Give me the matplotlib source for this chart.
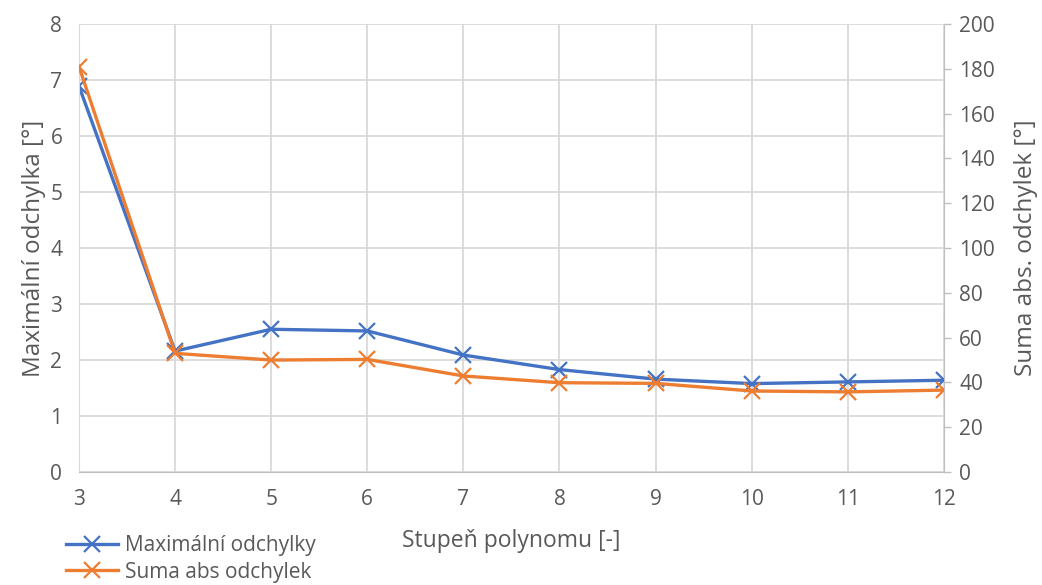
import matplotlib
matplotlib.use("Agg")
import matplotlib.pyplot as plt

# data
stupen = [3, 4, 5, 6, 7, 8, 9, 10, 11, 12]
max_odchylky = [6.89, 2.16, 2.55, 2.52, 2.09, 1.83, 1.66, 1.58, 1.61, 1.64]
suma_odchylek = [181, 53, 50, 50.3, 42.9, 39.9, 39.6, 36.2, 35.8, 36.6]

blue = "#4472C4"
orange = "#ED7D31"
txt = "#595959"
grid = "#D9D9D9"

plt.rcParams["font.family"] = ["Open Sans", "DejaVu Sans"]
plt.rcParams["font.size"] = 15

fig = plt.figure(figsize=(10.42, 5.85), dpi=100)
ax1 = fig.add_axes([0.0758, 0.193, 0.830, 0.766])
ax2 = ax1.twinx()

l1, = ax1.plot(stupen, max_odchylky, color=blue, lw=2.4, marker="x",
               markersize=12, markeredgewidth=1.6, label="Maximální odchylky")
l2, = ax2.plot(stupen, suma_odchylek, color=orange, lw=2.4, marker="x",
               markersize=12, markeredgewidth=1.6, label="Suma abs odchylek")

ax1.set_xlim(3, 12)
ax1.set_ylim(0, 8)
ax2.set_ylim(0, 200)
ax1.set_xticks(stupen)
ax1.set_yticks(range(0, 9))
ax2.set_yticks(range(0, 201, 20))

ax1.grid(True, color=grid, lw=1.3)
ax1.set_axisbelow(True)

for ax in (ax1, ax2):
    for s in ax.spines.values():
        s.set_visible(False)
    ax.tick_params(colors=txt, labelsize=15)
ax1.spines["left"].set_visible(True)
ax1.spines["left"].set_color(grid)
ax1.spines["bottom"].set_visible(True)
ax1.spines["bottom"].set_color("#BFBFBF")
ax2.spines["right"].set_visible(True)
ax2.spines["right"].set_color("#BFBFBF")
ax1.tick_params(axis="x", length=0, pad=12)
ax1.tick_params(axis="y", length=0, pad=12)
ax2.tick_params(axis="y", length=5, width=1, color="#BFBFBF", pad=6)

ax1.set_xlabel("Stupeň polynomu [-]", color=txt, fontsize=16.5, labelpad=14)
ax1.set_ylabel("Maximální odchylka [°]", color=txt, fontsize=17.5, labelpad=3)
ax2.set_ylabel("Suma abs. odchylek [°]", color=txt, fontsize=17.5, labelpad=14)

fig.legend(handles=[l1, l2], loc="lower left", bbox_to_anchor=(0.055, -0.01),
           frameon=False, labelcolor=txt, fontsize=15, handlelength=2.5,
           handletextpad=0.35, labelspacing=0.25, borderaxespad=0)

fig.savefig("out.png", dpi=100, facecolor="white")
